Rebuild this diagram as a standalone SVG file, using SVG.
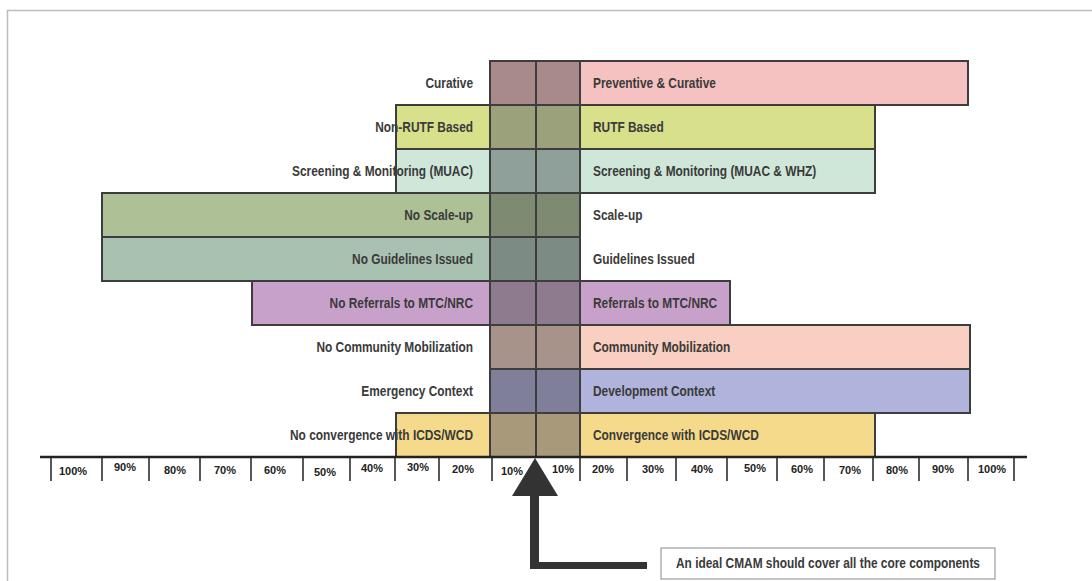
<svg xmlns="http://www.w3.org/2000/svg" width="1092" height="581" viewBox="0 0 1092 581">
<style>
.bar{stroke:#3d3d3d;stroke-width:2}
.lbl{font-family:"Liberation Sans",Arial,sans-serif;font-weight:bold;font-size:14px;fill:#3a3a3a}
.l{text-anchor:end}
.ax{font-family:"Liberation Sans",Arial,sans-serif;font-weight:bold;font-size:11px;fill:#222;text-anchor:middle}
.tick{stroke:#222;stroke-width:1.5}
</style>
<rect x="0" y="0" width="1092" height="581" fill="#fff"/>
<path d="M7.5 581 V10.5 H1092" fill="none" stroke="#bdbdbd" stroke-width="1.5"/>
<g id="row-curative">
<rect class="bar" x="490" y="61" width="478" height="44" fill="#f5c1c1"/>
<rect x="491" y="62" width="89" height="42" fill="#a98a8a"/>
<text class="lbl l" transform="scale(0.85,1)" x="556.5" y="88">Curative</text>
<text class="lbl" transform="scale(0.85,1)" x="697.6" y="88">Preventive &amp; Curative</text>
</g>
<g id="row-rutf">
<rect class="bar" x="396" y="105" width="479" height="44" fill="#d9e08c"/>
<rect x="490" y="106" width="90" height="42" fill="#9ba27b"/>
<text class="lbl l" transform="scale(0.85,1)" x="556.5" y="132">Non-RUTF Based</text>
<text class="lbl" transform="scale(0.85,1)" x="697.6" y="132">RUTF Based</text>
</g>
<g id="row-screening">
<rect class="bar" x="396" y="149" width="479" height="44" fill="#cfe7d9"/>
<rect x="490" y="150" width="90" height="42" fill="#8f9f99"/>
<text class="lbl l" transform="scale(0.85,1)" x="556.5" y="176">Screening &amp; Monitoring (MUAC)</text>
<text class="lbl" transform="scale(0.85,1)" x="697.6" y="176">Screening &amp; Monitoring (MUAC &amp; WHZ)</text>
</g>
<g id="row-scaleup">
<rect class="bar" x="102" y="193" width="478" height="44" fill="#adc096"/>
<rect x="490" y="194" width="89" height="42" fill="#7f8a73"/>
<text class="lbl l" transform="scale(0.85,1)" x="556.5" y="220">No Scale-up</text>
<text class="lbl" transform="scale(0.85,1)" x="697.6" y="220">Scale-up</text>
</g>
<g id="row-guidelines">
<rect class="bar" x="102" y="237" width="478" height="44" fill="#a9c1b1"/>
<rect x="490" y="238" width="89" height="42" fill="#7d8b85"/>
<text class="lbl l" transform="scale(0.85,1)" x="556.5" y="264">No Guidelines Issued</text>
<text class="lbl" transform="scale(0.85,1)" x="697.6" y="264">Guidelines Issued</text>
</g>
<g id="row-referrals">
<rect class="bar" x="252" y="281" width="478" height="44" fill="#c8a1cb"/>
<rect x="490" y="282" width="90" height="42" fill="#8e7b8e"/>
<text class="lbl l" transform="scale(0.85,1)" x="556.5" y="308">No Referrals to MTC/NRC</text>
<text class="lbl" transform="scale(0.85,1)" x="697.6" y="308">Referrals to MTC/NRC</text>
</g>
<g id="row-community">
<rect class="bar" x="490" y="325" width="480" height="44" fill="#f8cfc0"/>
<rect x="491" y="326" width="89" height="42" fill="#a8938b"/>
<text class="lbl l" transform="scale(0.85,1)" x="556.5" y="352">No Community Mobilization</text>
<text class="lbl" transform="scale(0.85,1)" x="697.6" y="352">Community Mobilization</text>
</g>
<g id="row-context">
<rect class="bar" x="490" y="369" width="480" height="44" fill="#b0b3dc"/>
<rect x="491" y="370" width="89" height="42" fill="#7f7f99"/>
<text class="lbl l" transform="scale(0.85,1)" x="556.5" y="396">Emergency Context</text>
<text class="lbl" transform="scale(0.85,1)" x="697.6" y="396">Development Context</text>
</g>
<g id="row-convergence">
<rect class="bar" x="396" y="413" width="479" height="44" fill="#f6da8b"/>
<rect x="490" y="414" width="90" height="42" fill="#a8997a"/>
<text class="lbl l" transform="scale(0.85,1)" x="556.5" y="440">No convergence with ICDS/WCD</text>
<text class="lbl" transform="scale(0.85,1)" x="697.6" y="440">Convergence with ICDS/WCD</text>
</g>
<g id="connectors">
<line x1="490" y1="61" x2="490" y2="457" stroke="#3d3d3d" stroke-width="2"/>
<line x1="580" y1="61" x2="580" y2="457" stroke="#3d3d3d" stroke-width="2"/>
<line x1="536" y1="61" x2="536" y2="457" stroke="#3d3d3d" stroke-width="2"/>
</g>
<g id="axis">
<line x1="40" y1="457" x2="1027" y2="457" stroke="#222" stroke-width="2.5"/>
<path class="tick" d="M51 457V481M102 457V481M149 457V481M200 457V481M251 457V481M303 457V481M350 457V481M395 457V481M439 457V481M492 457V481M580 457V481M627 457V481M676 457V481M727 457V481M777 457V481M824 457V481M873 457V481M919 457V481M968 457V481M1014 457V481"/>
<text class="ax" x="73" y="475">100%</text>
<text class="ax" x="125" y="471">90%</text>
<text class="ax" x="175" y="474">80%</text>
<text class="ax" x="225" y="474">70%</text>
<text class="ax" x="275" y="474">60%</text>
<text class="ax" x="325" y="476">50%</text>
<text class="ax" x="372" y="472">40%</text>
<text class="ax" x="418" y="471">30%</text>
<text class="ax" x="463" y="473">20%</text>
<text class="ax" x="512" y="475">10%</text>
<text class="ax" x="563" y="473">10%</text>
<text class="ax" x="603" y="473">20%</text>
<text class="ax" x="653" y="473">30%</text>
<text class="ax" x="702" y="473">40%</text>
<text class="ax" x="755" y="472">50%</text>
<text class="ax" x="802" y="473">60%</text>
<text class="ax" x="850" y="474">70%</text>
<text class="ax" x="897" y="474">80%</text>
<text class="ax" x="943" y="473">90%</text>
<text class="ax" x="992" y="473">100%</text>
</g>
<g id="arrow" fill="#333">
<polygon points="512,496 535,458 558,496"/>
<rect x="530" y="495" width="9" height="74"/>
<rect x="530" y="562" width="117" height="7"/>
</g>
<g id="note">
<rect x="661" y="548" width="334" height="31" fill="#fff" stroke="#8a8a8a" stroke-width="1"/>
<text class="lbl" transform="scale(0.85,1)" x="974.1" y="568" text-anchor="middle" font-size="12.5">An ideal CMAM should cover all the core components</text>
</g>
</svg>
